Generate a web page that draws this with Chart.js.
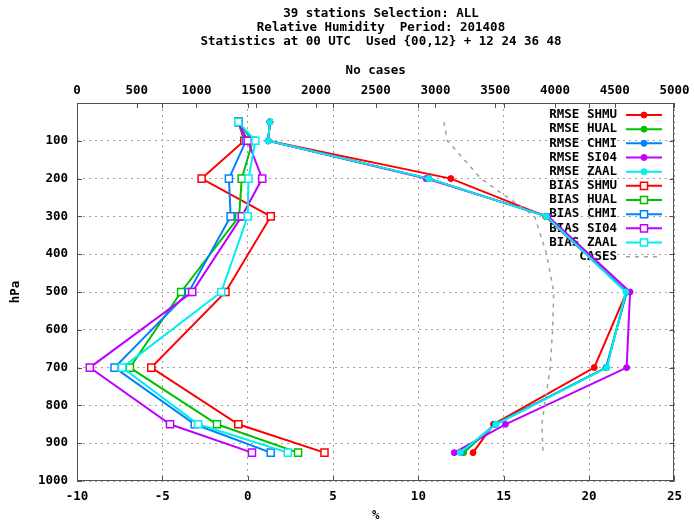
<!DOCTYPE html>
<html lang="en">
<head>
<meta charset="UTF-8">
<title>Relative Humidity 201408</title>
<script src="https://cdn.jsdelivr.net/npm/chart.js"></script>
<style>
  body { margin: 0; background: #fff; }
  canvas { display: block; }
</style>
</head>
<body>
<canvas id="chart" width="694" height="523"></canvas>
<script>
// pressure levels (hPa)
const levels = [50, 100, 200, 300, 500, 700, 850, 925];
const caseLevels = [50, 100, 200, 300, 400, 500, 600, 700, 850, 925];

// RMSE (%)
const rmseSHMU = [1.3, 1.2, 11.9, 17.45, 22.2, 20.3, 14.4, 13.2];
const rmseHUAL = [1.3, 1.2, 10.6, 17.5, 22.2, 21.0, 14.5, 12.65];
const rmseCHMI = [1.3, 1.2, 10.6, 17.5, 22.2, 21.0, 14.5, 12.5];
const rmseSI04 = [1.3, 1.2, 10.45, 17.6, 22.4, 22.2, 15.1, 12.1];
const rmseZAAL = [1.3, 1.2, 10.6, 17.5, 22.15, 21.05, 14.55, 12.45];

// BIAS (%)
const biasSHMU = [-0.55, -0.2, -2.7, 1.35, -1.3, -5.65, -0.55, 4.5];
const biasHUAL = [-0.55, 0.3, -0.35, -0.5, -3.9, -6.9, -1.8, 2.95];
const biasCHMI = [-0.55, -0.1, -1.1, -1.0, -3.45, -7.8, -3.1, 1.35];
const biasSI04 = [-0.55, 0.0, 0.85, -0.35, -3.25, -9.25, -4.55, 0.25];
const biasZAAL = [-0.55, 0.45, 0.05, 0.0, -1.55, -7.35, -2.9, 2.35];

// number of cases (top axis)
const cases = [3070, 3100, 3380, 3830, 3930, 3990, 3980, 3960, 3890, 3900];

// tick labels
const pctTicks = [-10, -5, 0, 5, 10, 15, 20, 25];
const hpaTicks = [100, 200, 300, 400, 500, 600, 700, 800, 900, 1000];
const caseTicks = [0, 500, 1000, 1500, 2000, 2500, 3000, 3500, 4000, 4500, 5000];

const titleLines = [
  '39 stations Selection: ALL',
  'Relative Humidity  Period: 201408',
  'Statistics at 00 UTC  Used {00,12} + 12 24 36 48'
];

const stations = ['SHMU', 'HUAL', 'CHMI', 'SI04', 'ZAAL'];
const colors = ['#ff0000', '#00c000', '#0080ff', '#c000ff', '#00eeee'];
const rmse = [rmseSHMU, rmseHUAL, rmseCHMI, rmseSI04, rmseZAAL];
const bias = [biasSHMU, biasHUAL, biasCHMI, biasSI04, biasZAAL];

const FONT = "'DejaVu Sans Mono', monospace";
const font = { family: FONT, size: 12.5, weight: 'bold' };
const plain = v => String(v);

const datasets = [];
stations.forEach((st, i) => {
  datasets.push({
    label: 'RMSE ' + st,
    data: levels.map((p, k) => ({ x: rmse[i][k], y: p })),
    borderColor: colors[i],
    backgroundColor: colors[i],
    pointStyle: 'circle',
    pointRadius: 3,
    pointBorderWidth: 1
  });
});
stations.forEach((st, i) => {
  datasets.push({
    label: 'BIAS ' + st,
    data: levels.map((p, k) => ({ x: bias[i][k], y: p })),
    borderColor: colors[i],
    backgroundColor: '#ffffff',
    pointStyle: 'rect',
    pointRadius: 5,
    pointBorderWidth: 1.5
  });
});
datasets.push({
  label: 'CASES',
  xAxisID: 'x2',
  data: caseLevels.map((p, k) => ({ x: cases[k], y: p })),
  borderColor: '#a0a0a0',
  borderDash: [4, 5],
  borderWidth: 1.5,
  pointRadius: 0
});
// later datasets on top, like gnuplot
datasets.forEach((d, i) => {
  d.showLine = true;
  d.fill = false;
  d.tension = 0;
  if (d.borderWidth === undefined) d.borderWidth = 2;
  d.order = datasets.length - i;
});

// title lines
const titlePlugin = {
  id: 'titleLines',
  afterDraw(chart) {
    const ctx = chart.ctx;
    ctx.save();
    ctx.font = 'bold 12.5px ' + FONT;
    ctx.fillStyle = '#000';
    ctx.textAlign = 'center';
    ctx.textBaseline = 'middle';
    titleLines.forEach((t, i) => ctx.fillText(t, 381, 14 + i * 14));
    ctx.restore();
  }
};

// border box, inward ticks and the key
const framePlugin = {
  id: 'frame',
  beforeDatasetsDraw(chart) {
    const { ctx, chartArea: a, scales } = chart;
    ctx.save();
    ctx.strokeStyle = '#505050';
    ctx.lineWidth = 1;
    ctx.beginPath();
    scales.x.ticks.forEach(t => {
      const px = Math.round(scales.x.getPixelForValue(t.value)) + 0.5;
      ctx.moveTo(px, a.bottom); ctx.lineTo(px, a.bottom - 5);
      ctx.moveTo(px, a.top); ctx.lineTo(px, a.top + 5);
    });
    scales.x2.ticks.forEach(t => {
      const px = Math.round(scales.x2.getPixelForValue(t.value)) + 0.5;
      ctx.moveTo(px, a.top); ctx.lineTo(px, a.top + 5);
    });
    scales.y.ticks.forEach(t => {
      const py = Math.round(scales.y.getPixelForValue(t.value)) + 0.5;
      ctx.moveTo(a.left, py); ctx.lineTo(a.left + 5, py);
      ctx.moveTo(a.right, py); ctx.lineTo(a.right - 5, py);
    });
    ctx.stroke();
    ctx.strokeRect(Math.round(a.left) + 0.5, Math.round(a.top) + 0.5,
      Math.round(a.width) - 1, Math.round(a.height) - 1);

    // key
    ctx.font = 'bold 12.5px ' + FONT;
    ctx.textAlign = 'right';
    ctx.textBaseline = 'middle';
    chart.data.datasets.forEach((d, i) => {
      const y = 115 + i * 14.17;
      ctx.fillStyle = '#000';
      ctx.fillText(d.label, 617, y);
      ctx.strokeStyle = d.borderColor;
      ctx.lineWidth = d.borderWidth;
      ctx.setLineDash(d.borderDash || []);
      ctx.beginPath();
      ctx.moveTo(626, y); ctx.lineTo(662, y);
      ctx.stroke();
      ctx.setLineDash([]);
      if (d.pointRadius > 0) {
        ctx.fillStyle = d.backgroundColor;
        ctx.lineWidth = d.pointBorderWidth;
        Chart.helpers.drawPoint(ctx, {
          pointStyle: d.pointStyle, radius: d.pointRadius,
          borderWidth: d.pointBorderWidth, rotation: 0
        }, 644, y);
      }
    });
    ctx.restore();
  }
};

new Chart(document.getElementById('chart'), {
  type: 'scatter',
  data: { datasets },
  options: {
    responsive: false,
    animation: false,
    events: [],
    layout: { padding: { left: 0, right: 17, top: 0, bottom: 0 } },
    plugins: { legend: { display: false }, tooltip: { enabled: false } },
    scales: {
      x: {
        type: 'linear',
        position: 'bottom',
        min: -10,
        max: 25,
        afterBuildTicks: s => { s.ticks = pctTicks.map(v => ({ value: v })); },
        afterFit: s => { s.height = 42; },
        ticks: { font, color: '#000', padding: 8.5, autoSkip: false, maxRotation: 0, callback: plain },
        grid: { color: '#a0a0a0', lineWidth: 1, drawTicks: false },
        border: { display: false, dash: [2, 4] },
        title: { display: true, text: '%', font, color: '#000', padding: { top: 0, bottom: 0 } }
      },
      x2: {
        type: 'linear',
        position: 'top',
        min: 0,
        max: 5000,
        afterBuildTicks: s => { s.ticks = caseTicks.map(v => ({ value: v })); },
        afterFit: s => { s.height = 103; },
        ticks: { font, color: '#000', padding: 4.5, autoSkip: false, maxRotation: 0, callback: plain },
        grid: { display: false, drawTicks: false },
        border: { display: false },
        title: { display: true, text: 'No cases', font, color: '#000', padding: { top: 63.5, bottom: 0 } }
      },
      y: {
        type: 'linear',
        position: 'left',
        reverse: true,
        min: 0,
        max: 1000,
        afterBuildTicks: s => { s.ticks = hpaTicks.map(v => ({ value: v })); },
        afterFit: s => { s.width = 77; },
        ticks: { font, color: '#000', padding: 9, callback: plain },
        grid: { color: '#a0a0a0', lineWidth: 1, drawTicks: false },
        border: { display: false, dash: [2, 4] },
        title: { display: true, text: 'hPa', font, color: '#000', padding: { top: 8.5, bottom: 0 } }
      }
    }
  },
  plugins: [titlePlugin, framePlugin]
});
</script>
</body>
</html>
